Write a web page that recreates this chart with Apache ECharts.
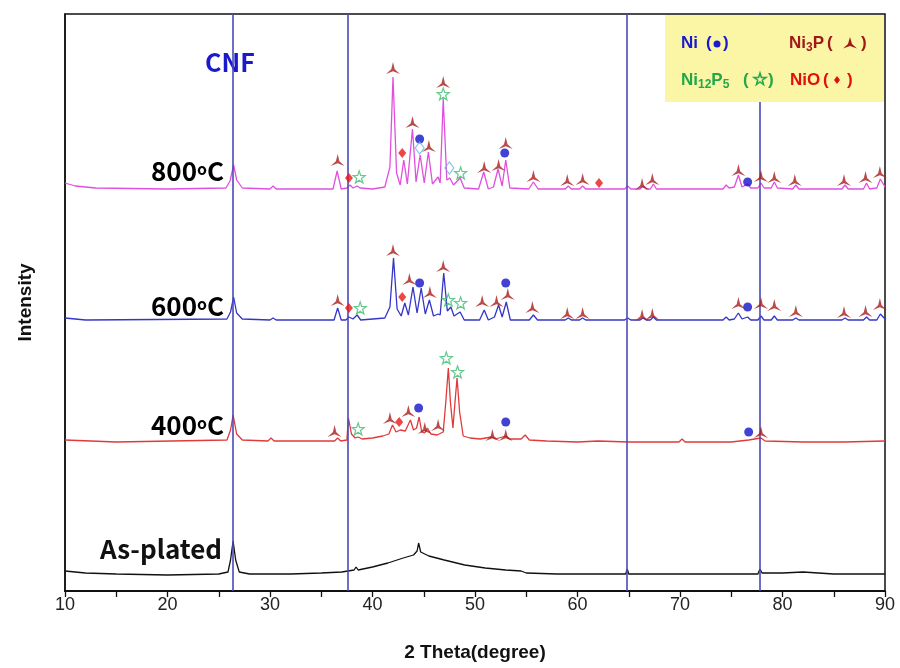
<!DOCTYPE html>
<html>
<head>
<meta charset="utf-8">
<script src="https://cdn.jsdelivr.net/npm/echarts@6/dist/echarts.min.js"></script>
<style>
  html, body { margin: 0; padding: 0; background: #fff; }
  #xrd { width: 900px; height: 668px; }
</style>
</head>
<body>
<div id="xrd"></div>
<script>
/* 2 theta grid lines (CNF) */
var cnfLines = [26.4, 37.6, 64.8, 77.8];

/* traces: [2theta, intensity above own baseline] */
var trace800 = [[10,6],[11,3],[13,1],[20,0],[25.7,1],[26.1,8],[26.45,24],[26.75,9],[27.3,1],[30,0],[30.3,3],[30.6,0],
  [36.15,0],[36.55,18],[36.95,0],[37.5,1],[37.8,4],[38.1,1],[38.5,3],[38.8,1],[40,0],[41.2,2],[41.7,22],[42.0,112],[42.35,16],
  [42.7,4],[43.05,29],[43.4,5],[43.9,60],[44.25,7],[44.65,34],[45.05,6],[45.45,37],[45.85,5],[46.4,12],[46.6,6],[46.9,90],
  [47.25,9],[47.55,11],[47.9,4],[48.55,11],[48.95,1],[50.35,0],[50.85,17],[51.3,0],[51.8,2],[52.25,20],[52.65,3],[53.0,29],
  [53.4,1],[55.25,0],[55.7,7],[56.15,0],[58.8,0],[59.1,3],[59.4,0],[60.2,0],[60.5,3],[60.8,0],[64.6,0],[64.9,3],[65.2,0],
  [66.1,0],[66.4,3],[66.7,0],[67.1,0],[67.4,5],[67.7,0],[70,0],[74.2,0],[74.5,4],[74.8,1],[75.3,2],[75.7,14],[76.05,2],
  [76.6,5],[76.9,1],[77.6,1],[77.9,6],[78.2,1],[78.9,1],[79.2,7],[79.5,1],[81.0,0],[81.3,4],[81.6,0],[85.8,0],[86.1,4],
  [86.4,0],[87.9,0],[88.2,6],[88.5,0],[89.2,1],[89.55,10],[90,2]];
var trace600 = [[10,2],[12,0],[25.8,1],[26.15,8],[26.45,23],[26.75,7],[27.3,1],[30.0,0],[30.3,2],[30.6,0],[36.25,0],[36.6,12],
  [36.95,0],[37.4,0],[37.7,3],[38.1,1],[38.5,5],[38.85,0],[41.2,2],[41.7,13],[42.05,62],[42.4,11],[42.8,4],[43.15,17],
  [43.5,5],[43.95,33],[44.35,7],[44.75,32],[45.15,6],[45.55,20],[45.95,4],[46.4,6],[46.6,5],[46.95,47],[47.3,9],[47.65,13],
  [47.95,4],[48.55,8],[48.95,0],[50.45,0],[50.9,10],[51.3,0],[51.9,3],[52.3,15],[52.65,3],[53.05,18],[53.45,0],[55.3,0],
  [55.7,5],[56.1,0],[58.8,0],[59.1,2],[59.4,0],[60.2,0],[60.5,2],[60.8,0],[64.6,0],[64.9,2],[65.2,0],[66.1,0],[66.4,2],
  [66.7,0],[67.1,0],[67.4,3],[67.7,0],[74.2,0],[74.5,3],[74.8,0],[75.3,1],[75.7,7],[76.05,1],[76.6,3],[76.9,0],[77.6,0],
  [77.9,4],[78.2,0],[78.9,0],[79.2,4],[79.5,0],[81.0,0],[81.3,2],[81.6,0],[85.8,0],[86.1,2],[86.4,0],[87.9,0],[88.2,3],
  [88.5,0],[89.2,0],[89.55,6],[90,1]];
var trace400 = [[10,2],[15,0],[25.8,2],[26.15,12],[26.4,27],[26.75,8],[27.3,2],[29.8,1],[30.1,4],[30.4,1],[36.3,1],[36.6,4],
  [36.9,1],[37.5,2],[37.65,24],[37.95,8],[38.3,4],[38.6,5],[39,3],[40,4],[41,6],[41.6,8],[41.95,17],[42.3,10],[42.7,12],
  [43.2,11],[43.7,22],[44.0,12],[44.3,14],[44.55,25],[44.8,10],[45.1,9],[45.35,14],[45.7,8],[46.3,7],[46.9,10],[47.15,40],
  [47.4,74],[47.6,40],[47.85,14],[48.05,40],[48.25,64],[48.5,30],[48.85,6],[49.5,4],[50.5,3],[51.6,5],[52,3],[53.0,6],
  [53.4,3],[54.5,3],[54.9,7],[55.3,2],[57,1],[60,0],[62,1],[65,0],[69.9,0],[70.2,3],[70.5,0],[75,0],[76.7,2],[77.9,4],
  [78.3,1],[82,0],[86,0],[90,1]];
var tracePlated = [[10,4],[12,2],[15,1],[20,0],[25,1],[25.9,3],[26.15,15],[26.4,34],[26.65,15],[27.0,3],[28,1],[32,1],
  [35,2],[37,3],[38.2,5],[38.4,8],[38.6,5],[40,8],[41.5,12],[43,17],[44,20],[44.35,24],[44.5,32],[44.7,23],[45.5,19],
  [47,15],[49,10],[51,7],[53,5],[54.5,4],[55,2],[58,1],[62,1],[64.7,1],[64.85,6],[65.0,1],[70,1],[77.6,1],[77.8,6],
  [78,2],[80,2],[82,3],[85,1],[90,1]];

/* vertical stacking of the patterns */
var baseline = { T800: 402, T600: 271, T400: 149, PL: 16 };

/* phase marks: [2theta, level above baseline, trace] */
var ni3pMarks = [[36.6,29,'T800'],[42.0,121,'T800'],[43.9,67,'T800'],[45.5,43,'T800'],[46.9,107,'T800'],[50.9,22,'T800'],
  [52.3,24,'T800'],[53.0,46,'T800'],[55.7,13,'T800'],[59.0,9,'T800'],[60.5,10,'T800'],[66.3,5,'T800'],[67.3,10,'T800'],
  [75.7,19,'T800'],[77.9,13,'T800'],[79.2,12,'T800'],[81.2,9,'T800'],[86.0,9,'T800'],[88.1,12,'T800'],[89.5,17,'T800'],
  [36.6,20,'T600'],[42.0,70,'T600'],[43.6,41,'T600'],[45.6,28,'T600'],[46.9,54,'T600'],[50.7,19,'T600'],[52.1,19,'T600'],
  [53.2,26,'T600'],[55.6,13,'T600'],[59.0,7,'T600'],[60.5,7,'T600'],[66.3,5,'T600'],[67.3,6,'T600'],[75.7,17,'T600'],
  [77.9,17,'T600'],[79.2,15,'T600'],[81.3,9,'T600'],[86.0,8,'T600'],[88.1,9,'T600'],[89.5,16,'T600'],
  [36.3,11,'T400'],[41.7,24,'T400'],[43.5,31,'T400'],[45.1,14,'T400'],[46.4,17,'T400'],[51.7,7,'T400'],[53.0,7,'T400'],
  [77.9,10,'T400']];
var niMarks = [[44.6,50,'T800'],[52.9,36,'T800'],[76.6,7,'T800'],[44.6,37,'T600'],[53.0,37,'T600'],[76.6,13,'T600'],
  [44.5,34,'T400'],[53.0,20,'T400'],[76.7,10,'T400']];
var nioMarks = [[37.7,11,'T800'],[42.9,36,'T800'],[62.1,6,'T800'],[37.7,12,'T600'],[42.9,23,'T600'],[42.6,20,'T400']];
var ni12p5Marks = [[38.7,12,'T800'],[46.9,95,'T800'],[48.6,16,'T800'],[38.8,12,'T600'],[47.4,20,'T600'],[48.6,17,'T600'],
  [38.6,13,'T400'],[47.2,84,'T400'],[48.3,70,'T400']];
var otherMarks = [[44.6,41,'T800'],[47.5,21,'T800']];

var xTicks = [10, 20, 30, 40, 50, 60, 70, 80, 90];

function shift(pts, key) {
    return pts.map(function (p) { return [p[0], p[1] + baseline[key]]; });
}
function marks(list) {
    return list.map(function (m) { return [m[0], m[1] + baseline[m[2]]]; });
}

var ni3pPath = 'path://M10,0 L12.5,11 L20,18 L10,14 L0,18 L7.5,11 Z';
var starPath = 'path://M10,0 L12.35,6.76 L19.51,6.91 L13.8,11.24 L15.88,18.09 L10,14 L4.12,18.09 L6.2,11.24 L0.49,6.91 L7.65,6.76 Z';

var chart = echarts.init(document.getElementById('xrd'));
var labFont = 'Noto Sans CJK KR';

function tempLabel(t, y) {
    return {
        type: 'text', x: 151, y: y,
        style: {
            text: '{n|' + t + '}{s|o}{n|C}', verticalAlign: 'middle',
            rich: {
                n: { fontFamily: labFont, fontWeight: 'bold', fontSize: 26, color: '#111' },
                s: { fontFamily: labFont, fontWeight: 'bold', fontSize: 16, color: '#111', verticalAlign: 'top', padding: [3, 0, 0, 0] }
            }
        }
    };
}

function legText(txt, x, y, col) {
    return {
        type: 'text', x: x, y: y, z: 20,
        style: {
            text: txt, fill: col, verticalAlign: 'middle',
            fontFamily: 'Liberation Sans', fontWeight: 'bold', fontSize: 17,
            rich: {
                b: { fontFamily: 'Liberation Sans', fontWeight: 'bold', fontSize: 12, color: col, verticalAlign: 'bottom', padding: [9, 0, 0, 0] },
                n: { fontFamily: 'Liberation Sans', fontWeight: 'bold', fontSize: 17, color: col }
            }
        }
    };
}

var option = {
    animation: false,
    backgroundColor: '#fff',
    grid: { left: 65, right: 15, top: 14, bottom: 77, show: true, borderColor: '#111', borderWidth: 1.5, backgroundColor: 'transparent' },
    xAxis: {
        type: 'value', min: 10, max: 90, interval: 10,
        name: '2 Theta(degree)', nameLocation: 'middle', nameGap: 52,
        nameTextStyle: { fontFamily: 'Liberation Sans', fontWeight: 'bold', fontSize: 19, color: '#111' },
        axisLine: { lineStyle: { color: '#111', width: 2 } },
        axisTick: { length: 6, lineStyle: { color: '#111', width: 1.3 } },
        minorTick: { show: true, splitNumber: 2, length: 6, lineStyle: { color: '#111', width: 1.3 } },
        splitLine: { show: false },
        axisLabel: {
            margin: 5, fontFamily: 'Liberation Sans', fontSize: 18, color: '#222',
            formatter: function (v) { return xTicks.indexOf(v) >= 0 ? String(v) : ''; }
        }
    },
    yAxis: {
        type: 'value', min: 0, max: 577,
        name: 'Intensity', nameLocation: 'middle', nameGap: 30, nameRotate: 90,
        nameTextStyle: { fontFamily: 'Liberation Sans', fontWeight: 'bold', fontSize: 19, color: '#111' },
        axisLine: { show: true, lineStyle: { color: '#111', width: 1.5 } },
        axisTick: { show: false },
        axisLabel: { show: false },
        splitLine: { show: false }
    },
    series: [
        {
            name: 'As-plated', type: 'line', data: shift(tracePlated, 'PL'), symbol: 'none',
            lineStyle: { color: '#111', width: 1.3 },
            markLine: {
                silent: true, symbol: 'none', label: { show: false },
                lineStyle: { color: '#4a4ab8', width: 1.6, type: 'solid' },
                data: cnfLines.map(function (v) { return { xAxis: v }; })
            }
        },
        { name: '400', type: 'line', data: shift(trace400, 'T400'), symbol: 'none', lineStyle: { color: '#e03a3a', width: 1.3 } },
        { name: '600', type: 'line', data: shift(trace600, 'T600'), symbol: 'none', lineStyle: { color: '#3535c8', width: 1.3 } },
        { name: '800', type: 'line', data: shift(trace800, 'T800'), symbol: 'none', lineStyle: { color: '#e050e0', width: 1.3 } },
        {
            name: 'Ni3P', type: 'scatter', data: marks(ni3pMarks), symbol: ni3pPath, symbolSize: [14, 12],
            itemStyle: { color: '#a81e1e' }, z: 5
        },
        {
            name: 'Ni', type: 'scatter', data: marks(niMarks), symbol: 'circle', symbolSize: 9,
            itemStyle: { color: '#1414c8' }, z: 5
        },
        {
            name: 'NiO', type: 'scatter', data: marks(nioMarks), symbol: 'diamond', symbolSize: [8, 10],
            itemStyle: { color: '#e81818' }, z: 5
        },
        {
            name: 'Ni12P5', type: 'scatter', data: marks(ni12p5Marks), symbol: starPath, symbolSize: 12,
            itemStyle: { color: 'rgba(255,255,255,0)', borderColor: '#3dbd72', borderWidth: 1.2 }, z: 5
        },
        {
            name: 'other', type: 'scatter', data: marks(otherMarks), symbol: 'diamond', symbolSize: [9, 12],
            itemStyle: { color: 'rgba(255,255,255,0)', borderColor: '#6ab4e6', borderWidth: 1.2 }, z: 5
        }
    ],
    graphic: [
        { type: 'rect', shape: { x: 665, y: 15, width: 219, height: 87 }, style: { fill: '#fbf6a6' }, z: 10 },
        legText('Ni', 681, 43, '#1a1acc'),
        legText('(', 706, 43, '#1a1acc'),
        { type: 'circle', shape: { cx: 717, cy: 44, r: 3.5 }, style: { fill: '#1a1acc' }, z: 20 },
        legText(')', 723, 43, '#1a1acc'),
        legText('{n|Ni}{b|3}{n|P}', 789, 43, '#a01818'),
        legText('(', 827, 43, '#a01818'),
        { type: 'polygon', shape: { points: [[850, 37], [852, 44], [857, 48.5], [850, 46], [843, 48.5], [848, 44]] }, style: { fill: '#a01818' }, z: 20 },
        legText(')', 861, 43, '#a01818'),
        legText('{n|Ni}{b|12}{n|P}{b|5}', 681, 80, '#22a84a'),
        legText('(', 743, 80, '#22a84a'),
        { type: 'polygon', shape: { points: [[760, 73], [761.4, 77.4], [766, 77.5], [762.3, 80.2], [763.6, 84.6], [760, 82], [756.4, 84.6], [757.7, 80.2], [754, 77.5], [758.6, 77.4]] }, style: { fill: 'none', stroke: '#22a84a', lineWidth: 1.5 }, z: 20 },
        legText(')', 768, 80, '#22a84a'),
        legText('NiO', 790, 80, '#e01010'),
        legText('(', 823, 80, '#e01010'),
        { type: 'polygon', shape: { points: [[837, 76], [840, 80], [837, 84], [834, 80]] }, style: { fill: '#e01010' }, z: 20 },
        legText(')', 847, 80, '#e01010'),
        {
            type: 'text', x: 205, y: 62,
            style: { text: 'CNF', fill: '#1a1acc', fontFamily: labFont, fontWeight: 'bold', fontSize: 25, verticalAlign: 'middle' }
        },
        tempLabel('800', 171),
        tempLabel('600', 306),
        tempLabel('400', 425),
        {
            type: 'text', x: 100, y: 549,
            style: { text: 'As-plated', fill: '#111', fontFamily: labFont, fontWeight: 'bold', fontSize: 26, verticalAlign: 'middle' }
        }
    ]
};
chart.setOption(option);
</script>
</body>
</html>
